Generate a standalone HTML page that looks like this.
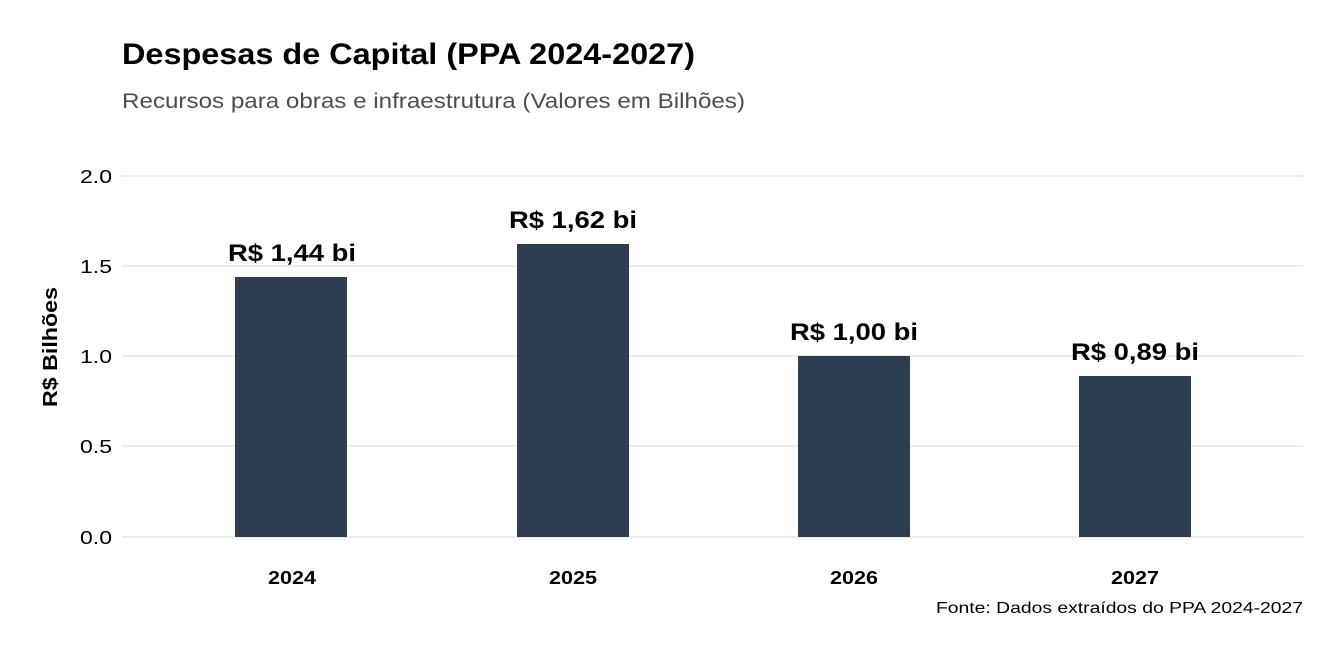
<!DOCTYPE html>
<html><head><meta charset="utf-8"><style>
html,body{margin:0;padding:0;background:#fff;}
svg{display:block;font-family:"Liberation Sans",Arial,sans-serif;}
</style></head><body>
<svg width="1344" height="658" viewBox="0 0 1344 658" xmlns="http://www.w3.org/2000/svg">
<rect width="1344" height="658" fill="#fff"/>
<text x="122" y="64" font-size="30" font-weight="bold" fill="#000" textLength="573" lengthAdjust="spacingAndGlyphs">Despesas de Capital (PPA 2024-2027)</text>
<text x="122" y="108" font-size="21" fill="#4d4d4d" textLength="623" lengthAdjust="spacingAndGlyphs">Recursos para obras e infraestrutura (Valores em Bilhões)</text>
<g stroke="#e5e5e5" stroke-width="1.5">
<line x1="122" x2="1303" y1="176" y2="176"/>
<line x1="122" x2="1303" y1="266" y2="266"/>
<line x1="122" x2="1303" y1="356" y2="356"/>
<line x1="122" x2="1303" y1="446" y2="446"/>
<line x1="122" x2="1303" y1="537" y2="537"/>
</g>
<g font-size="18" fill="#000" lengthAdjust="spacingAndGlyphs">
<text x="80" y="183" textLength="32" lengthAdjust="spacingAndGlyphs">2.0</text>
<text x="80" y="273" textLength="32" lengthAdjust="spacingAndGlyphs">1.5</text>
<text x="80" y="363" textLength="32" lengthAdjust="spacingAndGlyphs">1.0</text>
<text x="80" y="453" textLength="32" lengthAdjust="spacingAndGlyphs">0.5</text>
<text x="80" y="544" textLength="32" lengthAdjust="spacingAndGlyphs">0.0</text>
</g>
<text transform="translate(57,407) rotate(-90)" font-size="20" font-weight="bold" textLength="120" lengthAdjust="spacingAndGlyphs">R$ Bilhões</text>
<g fill="#2d3e50">
<rect x="235" y="277" width="112" height="260"/>
<rect x="517" y="244" width="112" height="293"/>
<rect x="798" y="356" width="112" height="181"/>
<rect x="1079" y="376" width="112" height="161"/>
</g>
<g font-size="24" font-weight="bold" fill="#000">
<text x="228" y="261" textLength="128" lengthAdjust="spacingAndGlyphs">R$ 1,44 bi</text>
<text x="509" y="228" textLength="128" lengthAdjust="spacingAndGlyphs">R$ 1,62 bi</text>
<text x="790" y="340" textLength="128" lengthAdjust="spacingAndGlyphs">R$ 1,00 bi</text>
<text x="1071" y="360" textLength="128" lengthAdjust="spacingAndGlyphs">R$ 0,89 bi</text>
</g>
<g font-size="18" font-weight="bold" fill="#000">
<text x="268" y="584" textLength="48" lengthAdjust="spacingAndGlyphs">2024</text>
<text x="549" y="584" textLength="48" lengthAdjust="spacingAndGlyphs">2025</text>
<text x="830" y="584" textLength="48" lengthAdjust="spacingAndGlyphs">2026</text>
<text x="1111" y="584" textLength="48" lengthAdjust="spacingAndGlyphs">2027</text>
</g>
<text x="936" y="613" font-size="16" fill="#000" textLength="367" lengthAdjust="spacingAndGlyphs">Fonte: Dados extraídos do PPA 2024-2027</text>
</svg>
</body></html>
